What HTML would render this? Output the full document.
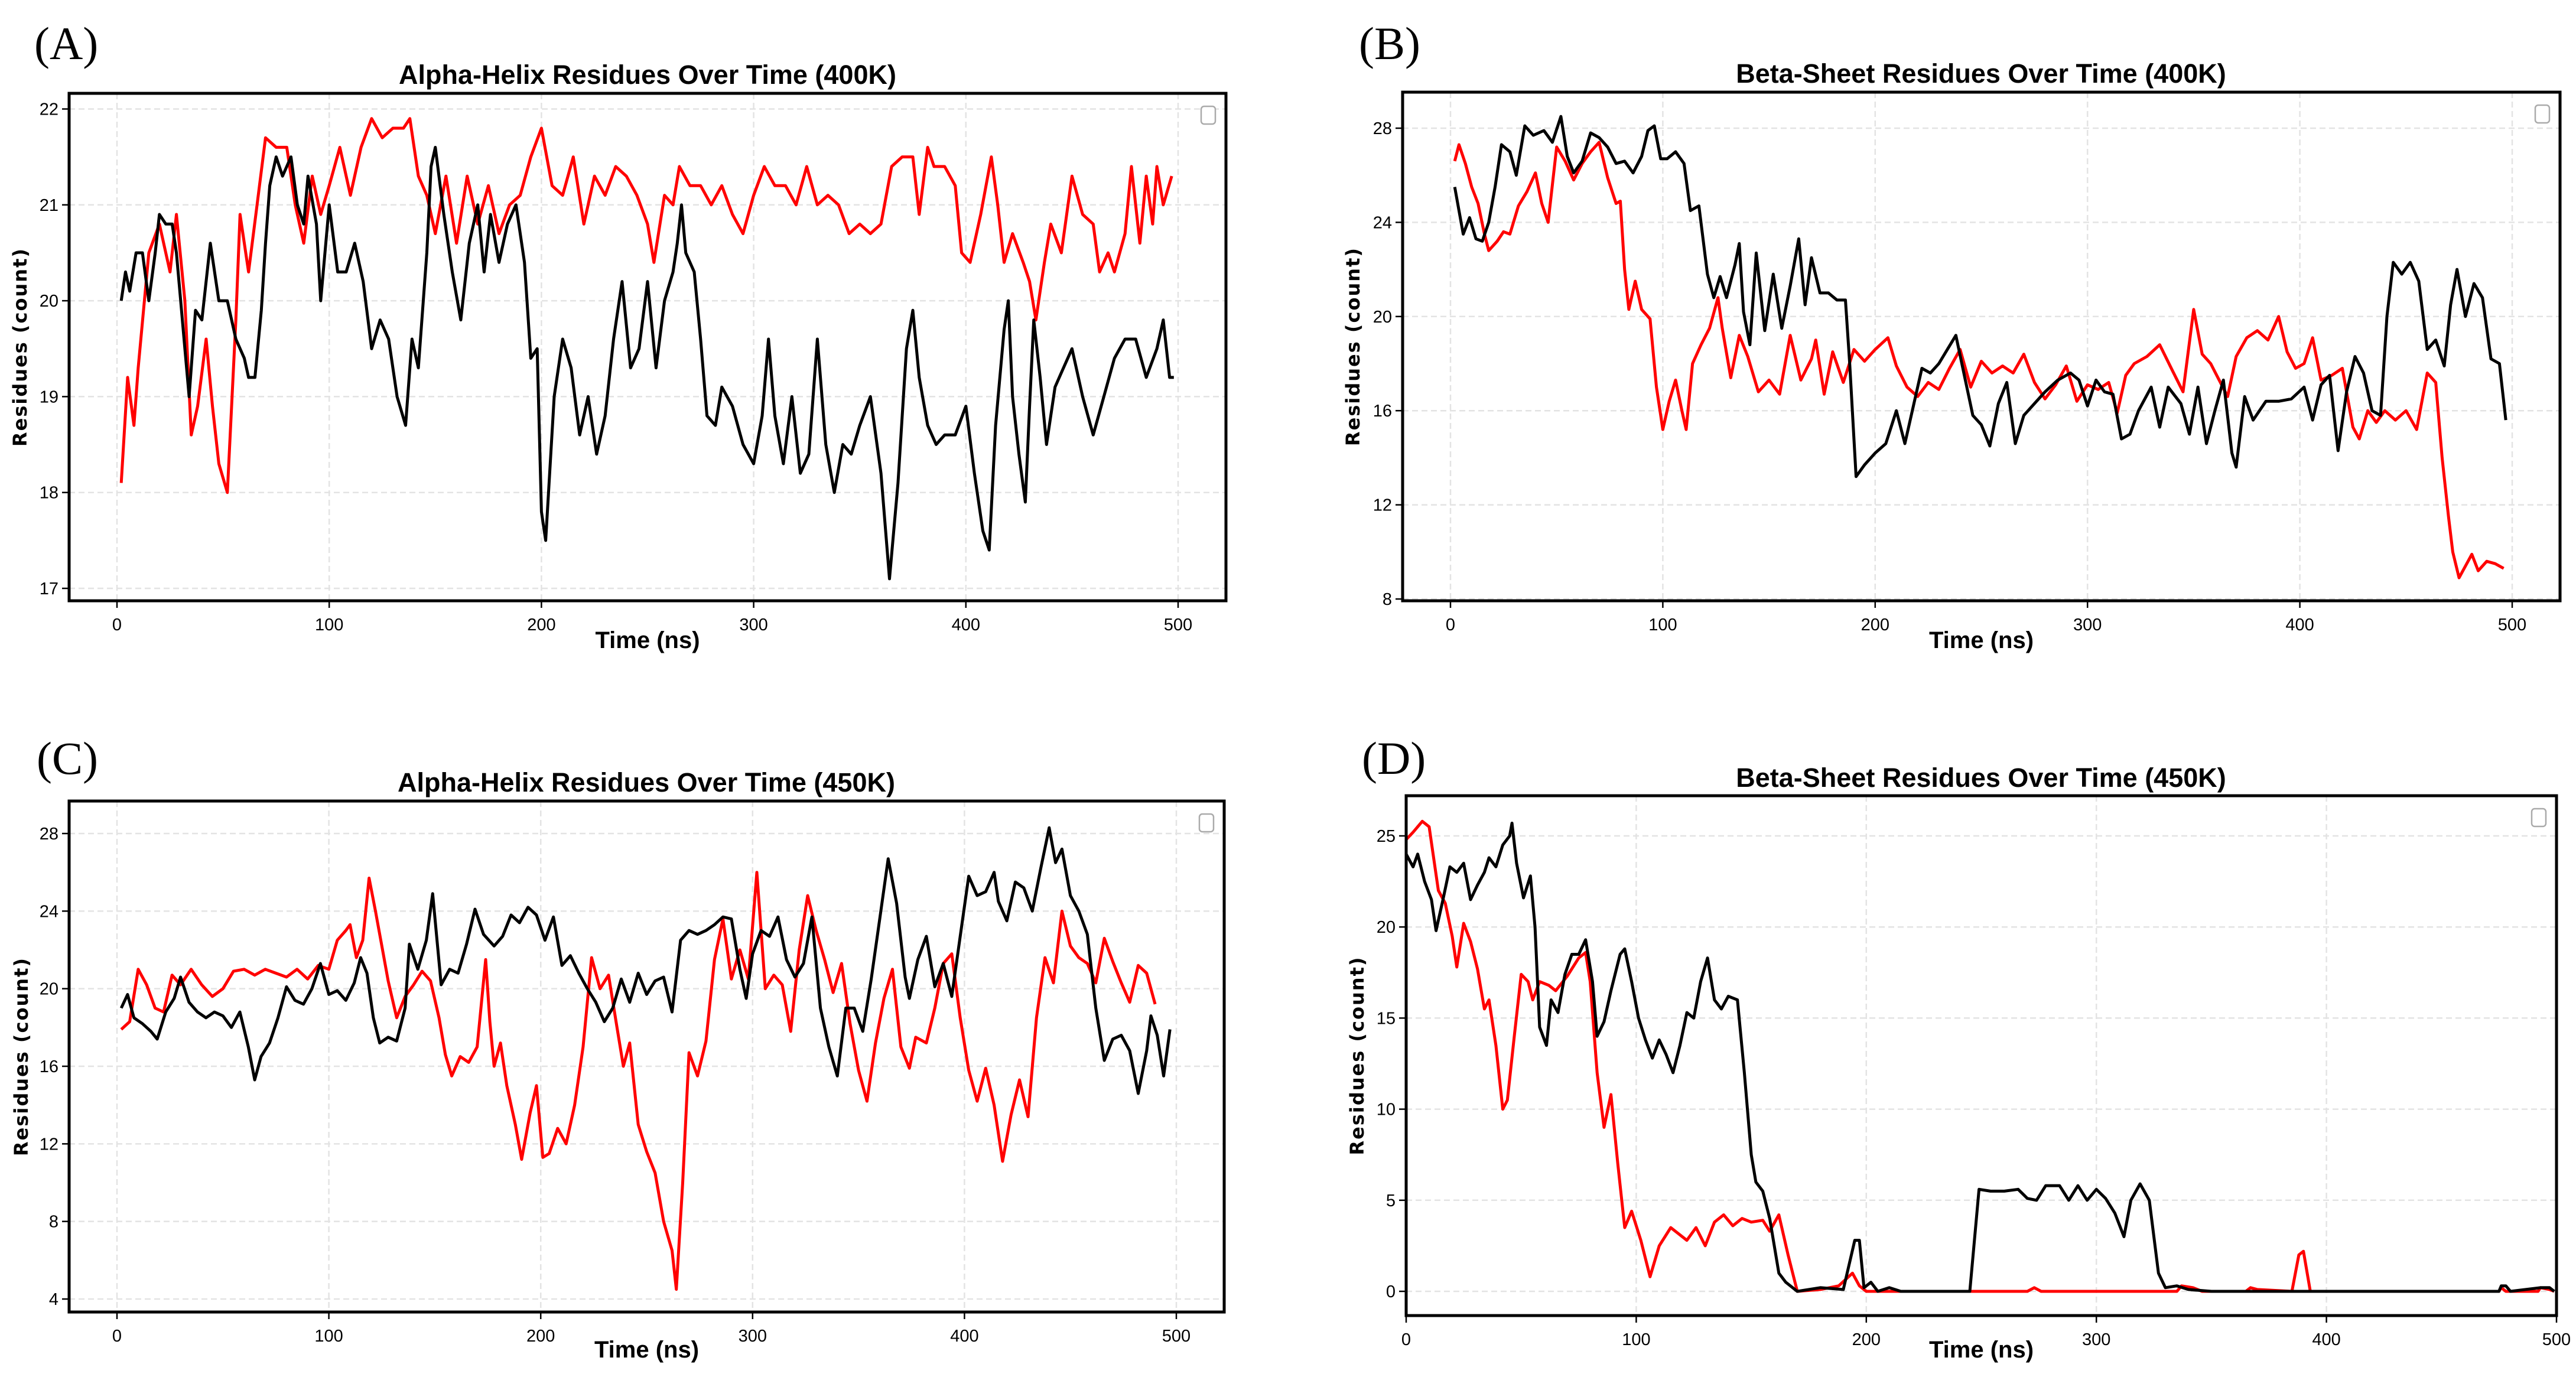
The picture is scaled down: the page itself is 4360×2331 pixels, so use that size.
<!DOCTYPE html>
<html><head><meta charset="utf-8">
<style>
html,body{margin:0;padding:0;background:#fff;}
svg{display:block;}
</style></head>
<body>
<svg id="fig" width="4360" height="2331" viewBox="0 0 4360 2331" xmlns="http://www.w3.org/2000/svg">
<rect width="4360" height="2331" fill="#fff"/>
</svg>
<script>
const xTicks = [0,100,200,300,400,500];
const aTicks = [17,18,19,20,21,22];
const bTicks = [8,12,16,20,24,28];
const cTicks = [4,8,12,16,20,24,28];
const dTicks = [0,5,10,15,20,25];
const titles = ["Alpha-Helix Residues Over Time (400K)","Beta-Sheet Residues Over Time (400K)","Alpha-Helix Residues Over Time (450K)","Beta-Sheet Residues Over Time (450K)"];
const letters = ["(A)","(B)","(C)","(D)"];

const aRed = [[2,18.1],[5,19.2],[8,18.7],[10,19.3],[15,20.5],[20,20.8],[25,20.3],[28,20.9],[32,20.0],[35,18.6],[38,18.9],[42,19.6],[45,18.9],[48,18.3],[52,18.0],[56,19.8],[58,20.9],[62,20.3],[66,21.0],[70,21.7],[75,21.6],[80,21.6],[84,21.0],[88,20.6],[92,21.3],[96,20.9],[100,21.2],[105,21.6],[110,21.1],[115,21.6],[120,21.9],[125,21.7],[130,21.8],[135,21.8],[138,21.9],[142,21.3],[146,21.1],[150,20.7],[155,21.3],[160,20.6],[165,21.3],[170,20.8],[175,21.2],[180,20.7],[185,21.0],[190,21.1],[195,21.5],[200,21.8],[205,21.2],[210,21.1],[215,21.5],[220,20.8],[225,21.3],[230,21.1],[235,21.4],[240,21.3],[245,21.1],[250,20.8],[253,20.4],[258,21.1],[262,21.0],[265,21.4],[270,21.2],[275,21.2],[280,21.0],[285,21.2],[290,20.9],[295,20.7],[300,21.1],[305,21.4],[310,21.2],[315,21.2],[320,21.0],[325,21.4],[330,21.0],[335,21.1],[340,21.0],[345,20.7],[350,20.8],[355,20.7],[360,20.8],[365,21.4],[370,21.5],[375,21.5],[378,20.9],[382,21.6],[385,21.4],[390,21.4],[395,21.2],[398,20.5],[402,20.4],[407,20.9],[412,21.5],[415,21.0],[418,20.4],[422,20.7],[427,20.4],[430,20.2],[433,19.8],[437,20.4],[440,20.8],[445,20.5],[450,21.3],[455,20.9],[460,20.8],[463,20.3],[467,20.5],[470,20.3],[475,20.7],[478,21.4],[482,20.6],[485,21.3],[488,20.8],[490,21.4],[493,21.0],[497,21.3]];
const aBlack = [[2,20.0],[4,20.3],[6,20.1],[9,20.5],[12,20.5],[15,20.0],[18,20.5],[20,20.9],[23,20.8],[26,20.8],[28,20.5],[30,20.0],[32,19.5],[34,19.0],[37,19.9],[40,19.8],[44,20.6],[48,20.0],[52,20.0],[56,19.6],[60,19.4],[62,19.2],[65,19.2],[68,19.9],[70,20.6],[72,21.2],[75,21.5],[78,21.3],[82,21.5],[85,21.0],[88,20.8],[90,21.3],[94,20.8],[96,20.0],[100,21.0],[104,20.3],[108,20.3],[112,20.6],[116,20.2],[120,19.5],[124,19.8],[128,19.6],[132,19.0],[136,18.7],[139,19.6],[142,19.3],[146,20.5],[148,21.4],[150,21.6],[154,20.9],[158,20.3],[162,19.8],[166,20.6],[170,21.0],[173,20.3],[176,20.9],[180,20.4],[184,20.8],[188,21.0],[192,20.4],[195,19.4],[198,19.5],[200,17.8],[202,17.5],[206,19.0],[210,19.6],[214,19.3],[218,18.6],[222,19.0],[226,18.4],[230,18.8],[234,19.6],[238,20.2],[242,19.3],[246,19.5],[250,20.2],[254,19.3],[258,20.0],[262,20.3],[264,20.6],[266,21.0],[268,20.5],[272,20.3],[275,19.6],[278,18.8],[282,18.7],[285,19.1],[290,18.9],[295,18.5],[300,18.3],[304,18.8],[307,19.6],[310,18.8],[314,18.3],[318,19.0],[322,18.2],[326,18.4],[330,19.6],[334,18.5],[338,18.0],[342,18.5],[346,18.4],[350,18.7],[355,19.0],[360,18.2],[364,17.1],[368,18.1],[372,19.5],[375,19.9],[378,19.2],[382,18.7],[386,18.5],[390,18.6],[395,18.6],[400,18.9],[404,18.2],[408,17.6],[411,17.4],[414,18.7],[418,19.7],[420,20.0],[422,19.0],[425,18.4],[428,17.9],[430,18.9],[432,19.8],[435,19.2],[438,18.5],[442,19.1],[446,19.3],[450,19.5],[455,19.0],[460,18.6],[465,19.0],[470,19.4],[475,19.6],[480,19.6],[485,19.2],[490,19.5],[493,19.8],[496,19.2],[498,19.2]];
const bRed = [[2,26.6],[4,27.3],[7,26.5],[10,25.5],[13,24.8],[16,23.5],[18,22.8],[22,23.2],[25,23.6],[28,23.5],[32,24.7],[36,25.3],[40,26.1],[43,24.8],[46,24.0],[50,27.2],[54,26.6],[58,25.8],[62,26.5],[66,27.0],[70,27.4],[74,25.9],[78,24.8],[80,24.9],[82,22.0],[84,20.3],[87,21.5],[90,20.3],[94,19.9],[97,17.0],[100,15.2],[103,16.4],[106,17.3],[109,16.0],[111,15.2],[114,18.0],[118,18.8],[122,19.5],[126,20.8],[128,19.5],[132,17.4],[136,19.2],[140,18.3],[145,16.8],[150,17.3],[155,16.7],[160,19.2],[165,17.3],[170,18.2],[172,19.0],[176,16.7],[180,18.5],[185,17.2],[190,18.6],[195,18.1],[200,18.6],[206,19.1],[210,17.9],[215,17.0],[220,16.6],[225,17.2],[230,16.9],[235,17.8],[240,18.6],[245,17.0],[250,18.1],[255,17.6],[260,17.9],[265,17.6],[270,18.4],[275,17.2],[280,16.5],[285,17.1],[290,17.9],[295,16.4],[300,17.1],[305,16.9],[310,17.2],[314,15.9],[318,17.5],[322,18.0],[328,18.3],[334,18.8],[340,17.7],[345,16.8],[350,20.3],[354,18.4],[358,18.0],[362,17.3],[366,16.6],[370,18.3],[375,19.1],[380,19.4],[385,19.0],[390,20.0],[394,18.5],[398,17.8],[402,18.0],[406,19.1],[410,17.3],[415,17.5],[420,17.8],[425,15.3],[428,14.8],[432,16.0],[436,15.5],[440,16.0],[445,15.6],[450,16.0],[455,15.2],[460,17.6],[464,17.2],[467,14.0],[470,11.5],[472,10.0],[475,8.9],[478,9.4],[481,9.9],[484,9.2],[488,9.6],[492,9.5],[496,9.3]];
const bBlack = [[2,25.5],[4,24.5],[6,23.5],[9,24.2],[12,23.3],[15,23.2],[18,24.0],[21,25.5],[24,27.3],[28,27.0],[31,26.0],[35,28.1],[39,27.7],[44,27.9],[48,27.4],[52,28.5],[55,26.8],[58,26.1],[62,26.6],[66,27.8],[70,27.6],[74,27.2],[78,26.5],[82,26.6],[86,26.1],[90,26.8],[93,27.9],[96,28.1],[99,26.7],[102,26.7],[106,27.0],[110,26.5],[113,24.5],[117,24.7],[121,21.8],[124,20.8],[127,21.7],[130,20.8],[134,22.2],[136,23.1],[138,20.2],[141,18.8],[144,22.7],[148,19.4],[152,21.8],[156,19.5],[160,21.3],[164,23.3],[167,20.5],[170,22.5],[174,21.0],[178,21.0],[182,20.7],[186,20.7],[188,18.0],[191,13.2],[195,13.7],[200,14.2],[205,14.6],[210,16.0],[214,14.6],[218,16.2],[222,17.8],[226,17.6],[230,18.0],[234,18.6],[238,19.2],[242,17.5],[246,15.8],[250,15.4],[254,14.5],[258,16.3],[262,17.2],[266,14.6],[270,15.8],[275,16.3],[280,16.8],[286,17.3],[292,17.6],[296,17.3],[300,16.2],[304,17.3],[308,16.8],[312,16.7],[316,14.8],[320,15.0],[324,16.0],[330,17.0],[334,15.3],[338,17.0],[344,16.3],[348,15.0],[352,17.0],[356,14.6],[360,16.0],[364,17.3],[368,14.2],[370,13.6],[374,16.6],[378,15.6],[384,16.4],[390,16.4],[396,16.5],[402,17.0],[406,15.6],[410,17.1],[414,17.5],[418,14.3],[422,16.8],[426,18.3],[430,17.6],[434,16.0],[438,15.8],[441,20.0],[444,22.3],[448,21.8],[452,22.3],[456,21.5],[460,18.6],[464,19.0],[468,17.9],[471,20.5],[474,22.0],[478,20.0],[482,21.4],[486,20.8],[490,18.2],[494,18.0],[497,15.6]];
const cRed = [[2,17.9],[6,18.3],[10,21.0],[14,20.2],[18,19.0],[22,18.8],[26,20.7],[30,20.2],[35,21.0],[40,20.2],[45,19.6],[50,20.0],[55,20.9],[60,21.0],[65,20.7],[70,21.0],[75,20.8],[80,20.6],[85,21.0],[90,20.5],[95,21.2],[100,21.0],[104,22.5],[108,23.0],[110,23.3],[113,21.6],[116,22.5],[119,25.7],[122,24.0],[125,22.2],[128,20.4],[132,18.5],[136,19.6],[140,20.2],[144,20.9],[148,20.4],[152,18.5],[155,16.6],[158,15.5],[162,16.5],[166,16.2],[170,17.0],[174,21.5],[176,18.3],[178,16.0],[181,17.2],[184,15.0],[188,13.0],[191,11.2],[195,13.6],[198,15.0],[201,11.3],[204,11.5],[208,12.8],[212,12.0],[216,14.0],[220,17.0],[224,21.6],[228,20.0],[232,20.7],[236,18.0],[239,16.0],[242,17.2],[246,13.0],[250,11.6],[254,10.5],[258,8.0],[262,6.5],[264,4.5],[267,10.0],[270,16.7],[274,15.5],[278,17.3],[282,21.5],[286,23.6],[290,20.5],[294,22.0],[298,20.5],[302,26.0],[306,20.0],[310,20.7],[314,20.2],[318,17.8],[322,22.0],[326,24.8],[330,23.0],[334,21.5],[338,19.8],[342,21.3],[346,18.2],[350,15.8],[354,14.2],[358,17.2],[362,19.5],[366,21.0],[370,17.0],[374,15.9],[377,17.5],[382,17.2],[386,19.0],[390,21.3],[394,21.8],[398,18.5],[402,15.8],[406,14.2],[410,15.9],[414,14.0],[418,11.1],[422,13.5],[426,15.3],[430,13.4],[434,18.5],[438,21.6],[442,20.3],[446,24.0],[450,22.2],[454,21.6],[458,21.3],[462,20.3],[466,22.6],[470,21.4],[474,20.3],[478,19.3],[482,21.2],[486,20.8],[490,19.2]];
const cBlack = [[2,19.0],[5,19.7],[8,18.5],[12,18.2],[16,17.8],[19,17.4],[23,18.8],[27,19.5],[30,20.6],[34,19.3],[38,18.8],[42,18.5],[46,18.8],[50,18.6],[54,18.0],[58,18.8],[62,17.0],[65,15.3],[68,16.5],[72,17.2],[76,18.5],[80,20.1],[84,19.4],[88,19.2],[92,20.0],[96,21.3],[100,19.7],[104,19.9],[108,19.4],[112,20.3],[115,21.6],[118,20.8],[121,18.5],[124,17.2],[128,17.5],[132,17.3],[136,19.0],[138,22.3],[142,21.0],[146,22.5],[149,24.9],[153,20.2],[157,21.0],[161,20.8],[165,22.3],[169,24.1],[173,22.8],[178,22.2],[182,22.7],[186,23.8],[190,23.4],[194,24.2],[198,23.8],[202,22.5],[206,23.7],[210,21.2],[214,21.7],[218,20.8],[222,20.0],[226,19.3],[230,18.3],[234,19.0],[238,20.5],[242,19.3],[246,20.8],[250,19.7],[254,20.4],[258,20.6],[262,18.8],[266,22.5],[270,23.0],[274,22.8],[278,23.0],[282,23.3],[286,23.7],[290,23.6],[294,21.0],[297,19.5],[300,21.8],[304,23.0],[308,22.7],[312,23.7],[316,21.5],[320,20.6],[324,21.3],[328,23.7],[332,19.0],[336,17.0],[340,15.5],[344,19.0],[348,19.0],[352,17.8],[356,20.5],[360,23.6],[364,26.7],[368,24.4],[372,20.6],[374,19.5],[378,21.5],[382,22.7],[386,20.1],[390,21.3],[394,19.6],[398,22.7],[402,25.8],[406,24.8],[410,25.0],[414,26.0],[416,24.5],[420,23.5],[424,25.5],[428,25.2],[432,24.0],[436,26.2],[440,28.3],[443,26.5],[446,27.2],[450,24.8],[454,24.0],[458,22.8],[462,19.0],[466,16.3],[470,17.4],[474,17.6],[478,16.8],[482,14.6],[486,16.8],[488,18.6],[491,17.6],[494,15.5],[497,17.9]];
const dRed = [[0,24.8],[3,25.2],[7,25.8],[10,25.5],[14,22.0],[17,21.3],[20,19.5],[22,17.8],[25,20.2],[28,19.2],[31,17.7],[34,15.5],[36,16.0],[39,13.5],[42,10.0],[44,10.5],[47,14.0],[50,17.4],[53,17.0],[55,16.0],[58,17.0],[62,16.8],[65,16.5],[70,17.3],[75,18.3],[78,18.6],[80,17.0],[83,12.0],[86,9.0],[89,10.8],[92,7.0],[95,3.5],[98,4.4],[102,2.8],[106,0.8],[110,2.5],[115,3.5],[118,3.2],[122,2.8],[126,3.5],[130,2.5],[134,3.8],[138,4.2],[142,3.6],[146,4.0],[150,3.8],[155,3.9],[158,3.3],[162,4.2],[166,2.0],[170,0],[180,0.1],[188,0.3],[194,1.0],[197,0.3],[200,0],[270,0],[273,0.2],[276,0],[335,0],[337,0.3],[342,0.2],[346,0],[365,0],[367,0.2],[370,0.1],[385,0],[388,2.0],[390,2.2],[393,0],[475,0],[476,0.2],[478,0],[492,0],[493,0.2],[497,0.1],[499,0]];
const dBlack = [[0,24.0],[3,23.3],[5,24.0],[8,22.5],[11,21.5],[13,19.8],[16,21.5],[19,23.3],[22,23.0],[25,23.5],[28,21.5],[31,22.3],[34,23.0],[36,23.8],[39,23.3],[42,24.5],[45,25.0],[46,25.7],[48,23.5],[51,21.6],[54,22.8],[56,20.0],[58,14.5],[61,13.5],[63,16.0],[66,15.3],[69,17.4],[72,18.5],[75,18.5],[78,19.3],[81,17.0],[83,14.0],[86,14.8],[89,16.5],[93,18.5],[95,18.8],[98,17.0],[101,15.0],[104,13.8],[107,12.8],[110,13.8],[113,13.0],[116,12.0],[119,13.5],[122,15.3],[125,15.0],[128,17.0],[131,18.3],[134,16.0],[137,15.5],[140,16.2],[144,16.0],[147,12.0],[150,7.5],[152,6.0],[155,5.5],[158,4.0],[162,1.0],[165,0.5],[170,0],[180,0.2],[190,0.1],[195,2.8],[197,2.8],[199,0.2],[202,0.5],[205,0],[210,0.2],[215,0],[245,0],[249,5.6],[254,5.5],[260,5.5],[266,5.6],[270,5.1],[274,5.0],[278,5.8],[284,5.8],[288,5.0],[292,5.8],[296,5.0],[300,5.6],[304,5.1],[308,4.3],[312,3.0],[315,5.0],[319,5.9],[323,5.0],[327,1.0],[330,0.2],[335,0.3],[340,0.1],[350,0],[475,0],[476,0.3],[478,0.3],[480,0],[493,0.2],[497,0.2],[499,0]];

const NS = "http://www.w3.org/2000/svg";
const svg = document.getElementById('fig');
function mk(tag, attrs, parent){ const e=document.createElementNS(NS,tag); for(const k in attrs) e.setAttribute(k,attrs[k]); (parent||svg).appendChild(e); return e; }

const panels = [
 {box:[117,158,2075,1017], xr:[198,1994], yv:[17,22], yp:[996,184.5], ticks:aTicks, series:[aRed,aBlack], title:[1096,142], letter:[58,100], xlab:1097, ylab:34, id:'a'},
 {box:[2374,156,4333,1017], xr:[2455,4252], yv:[8,28], yp:[1014,217], ticks:bTicks, series:[bRed,bBlack], title:[3353,140], letter:[2300,100], xlab:1097, ylab:2290, id:'b'},
 {box:[117,1356,2072,2221], xr:[198,1991], yv:[4,28], yp:[2199,1411], ticks:cTicks, series:[cRed,cBlack], title:[1094,1340], letter:[62,1310], xlab:2298, ylab:36, id:'c'},
 {box:[2380,1347,4327,2227], xr:[2380,4327], yv:[0,25], yp:[2186,1415], ticks:dTicks, series:[dRed,dBlack], title:[3353,1332], letter:[2305,1310], xlab:2298, ylab:2297, id:'d'}
];

panels.forEach(function(p,i){
  const g = mk('g',{});
  
  
  const [L,T,R,B] = p.box;
  const xs = t => p.xr[0] + (t-0)/500*(p.xr[1]-p.xr[0]);
  const ys = v => p.yp[0] + (v-p.yv[0])/(p.yv[1]-p.yv[0])*(p.yp[1]-p.yp[0]);
  xTicks.forEach(function(t){
    const l = mk('line',{x1:xs(t),x2:xs(t),y1:T,y2:B,stroke:'#e3e3e3','stroke-width':2.5,'stroke-dasharray':'10,6'},g);
    
    
  });
  p.ticks.forEach(function(v){
    const l = mk('line',{x1:L,x2:R,y1:ys(v),y2:ys(v),stroke:'#e3e3e3','stroke-width':2.5,'stroke-dasharray':'10,6'},g);
    
    
  });
  const cols=['#ff0000','#000000'];
  p.series.forEach(function(s,k){
    const d = s.map((pt,j)=>(j?'L':'M')+xs(pt[0]).toFixed(1)+','+ys(pt[1]).toFixed(1)).join(' ');
    const path = mk('path',{d:d,fill:'none',stroke:cols[k],'stroke-width':5,'stroke-linejoin':'round'},g);
    
    
  });
  const fr = mk('rect',{x:L,y:T,width:R-L,height:B-T,fill:'none',stroke:'#000','stroke-width':5},g);
  
  
  xTicks.forEach(function(t){
    mk('line',{x1:xs(t),x2:xs(t),y1:B,y2:B+12,stroke:'#000','stroke-width':2.5},g);
    const tx = mk('text',{x:xs(t),y:B+50,'text-anchor':'middle','font-family':'Liberation Sans, sans-serif','font-size':29,fill:'#000'},g);
    tx.textContent = t;
    
    
  });
  p.ticks.forEach(function(v){
    mk('line',{x1:L-12,x2:L,y1:ys(v),y2:ys(v),stroke:'#000','stroke-width':2.5},g);
    const tx = mk('text',{x:L-18,y:ys(v)+10,'text-anchor':'end','font-family':'Liberation Sans, sans-serif','font-size':29,fill:'#000'},g);
    tx.textContent = v;
    
    
  });
  const lg = mk('rect',{x:R-42,y:T+22,width:24,height:30,rx:5,fill:'#fff',stroke:'#aaa','stroke-width':2.5},g);
  
  
  const ti = mk('text',{x:p.title[0],y:p.title[1],'text-anchor':'middle','font-family':'Liberation Sans, sans-serif','font-weight':'bold','font-size':45,fill:'#000'},g);
  ti.textContent = titles[i];
  
  
  const le = mk('text',{x:p.letter[0],y:p.letter[1],'font-family':'Liberation Serif, serif','font-size':78,fill:'#000'},g);
  le.textContent = letters[i];
  
  
  const xl = mk('text',{x:(L+R)/2,y:p.xlab,'text-anchor':'middle','font-family':'Liberation Sans, sans-serif','font-weight':'bold','font-size':40,fill:'#000'},g);
  xl.textContent = 'Time (ns)';
  
  
  const cy=(T+B)/2;
  const yl = mk('text',{x:p.ylab,y:cy,'text-anchor':'middle','dominant-baseline':'central','font-family':'DejaVu Sans, sans-serif','font-weight':'bold','font-size':32,'letter-spacing':2,fill:'#000',transform:'rotate(-90 '+p.ylab+' '+cy+')'},g);
  yl.textContent = 'Residues (count)';
  
  
});
</script>
</body></html>
